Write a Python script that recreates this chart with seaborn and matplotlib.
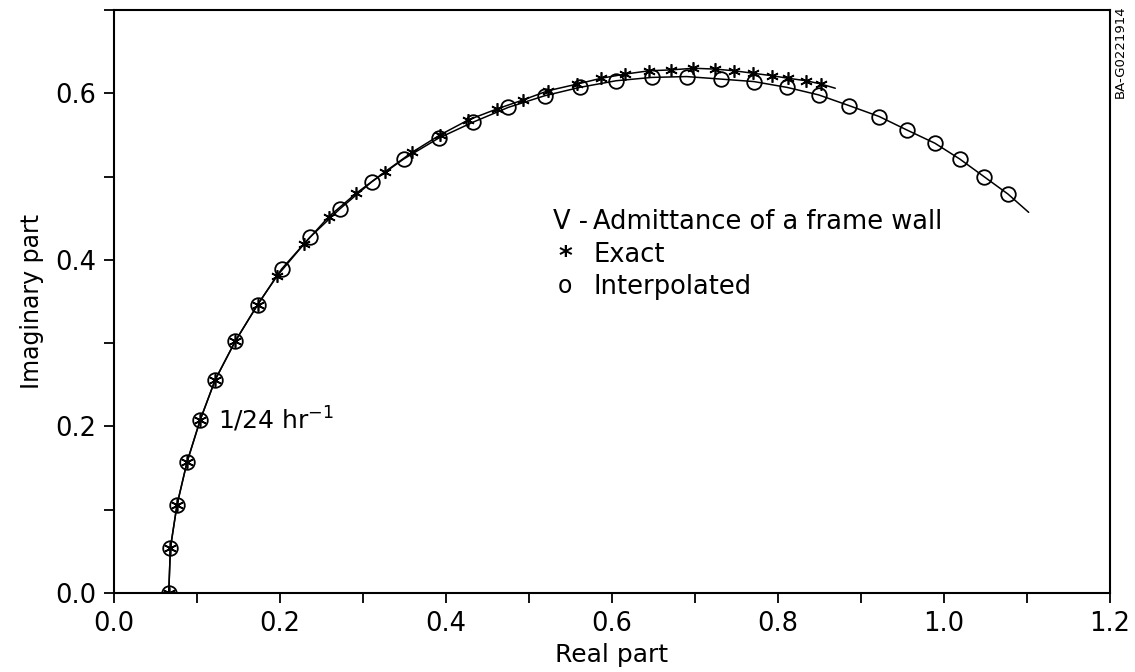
import matplotlib
matplotlib.use('Agg')
import matplotlib.pyplot as plt
from matplotlib.ticker import MultipleLocator
import seaborn as sns

# Interpolated admittance (circles)
interp_re = [0.066, 0.068, 0.076, 0.088, 0.104, 0.122, 0.146, 0.173, 0.202, 0.236,
             0.272, 0.311, 0.349, 0.391, 0.432, 0.475, 0.519, 0.561, 0.605, 0.648,
             0.690, 0.731, 0.771, 0.811, 0.849, 0.886, 0.922, 0.955, 0.989, 1.019,
             1.048, 1.077]
interp_im = [0.000, 0.054, 0.106, 0.157, 0.208, 0.256, 0.302, 0.346, 0.389, 0.427,
             0.461, 0.494, 0.521, 0.546, 0.565, 0.583, 0.597, 0.607, 0.615, 0.619,
             0.620, 0.617, 0.614, 0.607, 0.598, 0.585, 0.572, 0.556, 0.540, 0.521,
             0.500, 0.479]
# the curve goes on a little past the last circle
interp_tail_re = [1.102]
interp_tail_im = [0.457]

# Exact admittance (asterisks)
exact_re = [0.066, 0.068, 0.076, 0.088, 0.104, 0.122, 0.146, 0.173, 0.196, 0.229,
            0.259, 0.292, 0.327, 0.359, 0.393, 0.427, 0.461, 0.493, 0.523, 0.558,
            0.587, 0.616, 0.645, 0.671, 0.698, 0.724, 0.747, 0.770, 0.793, 0.812,
            0.834, 0.852]
exact_im = [0.000, 0.054, 0.106, 0.157, 0.208, 0.256, 0.302, 0.346, 0.380, 0.419,
            0.452, 0.480, 0.506, 0.529, 0.550, 0.568, 0.581, 0.592, 0.603, 0.611,
            0.618, 0.623, 0.627, 0.628, 0.630, 0.629, 0.627, 0.624, 0.621, 0.618,
            0.615, 0.611]
exact_tail_re = [0.869]
exact_tail_im = [0.606]

x_ticks = [0.0, 0.2, 0.4, 0.6, 0.8, 1.0, 1.2]
y_ticks = [0.0, 0.2, 0.4, 0.6]

sns.set_theme(style='ticks')
plt.rcParams['font.family'] = ['DejaVu Sans']
plt.rcParams['mathtext.fontset'] = 'dejavusans'
plt.rcParams['text.color'] = 'black'

fig = plt.figure(figsize=(11.35, 6.72), dpi=100)
ax = fig.add_axes([0.1004, 0.1176, 0.8776, 0.8676])

# curves
sns.lineplot(x=interp_re + interp_tail_re, y=interp_im + interp_tail_im, sort=False,
             estimator=None, color='black', linewidth=1.1, ax=ax)
sns.lineplot(x=exact_re + exact_tail_re, y=exact_im + exact_tail_im, sort=False,
             estimator=None, color='black', linewidth=1.1, ax=ax)

# markers
sns.lineplot(x=interp_re, y=interp_im, sort=False, estimator=None, linestyle='none',
             marker='o', markersize=10.5, markerfacecolor='none',
             markeredgecolor='black', markeredgewidth=1.3, ax=ax)
sns.lineplot(x=exact_re, y=exact_im, sort=False, estimator=None, linestyle='none',
             marker=(6, 2, 0), markersize=9, markerfacecolor='none',
             markeredgecolor='black', markeredgewidth=1.2, ax=ax)

ax.set_xlim(0, 1.2)
ax.set_ylim(0, 0.70)
ax.set_xticks(x_ticks)
ax.set_yticks(y_ticks)
ax.xaxis.set_minor_locator(MultipleLocator(0.1))
ax.yaxis.set_minor_locator(MultipleLocator(0.1))
ax.set_xticklabels([f'{v:.1f}' for v in x_ticks])
ax.set_yticklabels([f'{v:.1f}' for v in y_ticks])
ax.tick_params(which='both', direction='out', length=7, width=1.3, color='black',
               labelsize=18.5, pad=6, labelcolor='black')
for side in ['top', 'right', 'left', 'bottom']:
    ax.spines[side].set_visible(True)
    ax.spines[side].set_linewidth(1.5)
    ax.spines[side].set_color('black')

ax.set_xlabel('Real part', fontsize=18, color='black', labelpad=4)
ax.set_ylabel('Imaginary part', fontsize=17, color='black', labelpad=8)

# legend written as text block
ax.text(0.441, 0.636, 'V -', transform=ax.transAxes, fontsize=18.5, va='center', ha='left')
ax.text(0.481, 0.636, 'Admittance of a frame wall', transform=ax.transAxes,
        fontsize=18.5, va='center', ha='left')
ax.text(0.453, 0.575, '*', transform=ax.transAxes, fontsize=19, va='center', ha='center',
        fontweight='bold')
ax.text(0.481, 0.580, 'Exact', transform=ax.transAxes, fontsize=18.5, va='center', ha='left')
ax.text(0.453, 0.527, 'o', transform=ax.transAxes, fontsize=17, va='center', ha='center')
ax.text(0.481, 0.525, 'Interpolated', transform=ax.transAxes, fontsize=18.5,
        va='center', ha='left')

ax.text(0.125, 0.208, '1/24 hr$^{-1}$', fontsize=18, va='center', ha='left')

fig.text(0.987, 0.992, 'BA-G0221914', rotation=90, fontsize=9.5, va='top', ha='center')

fig.savefig('out.png', dpi=100)
